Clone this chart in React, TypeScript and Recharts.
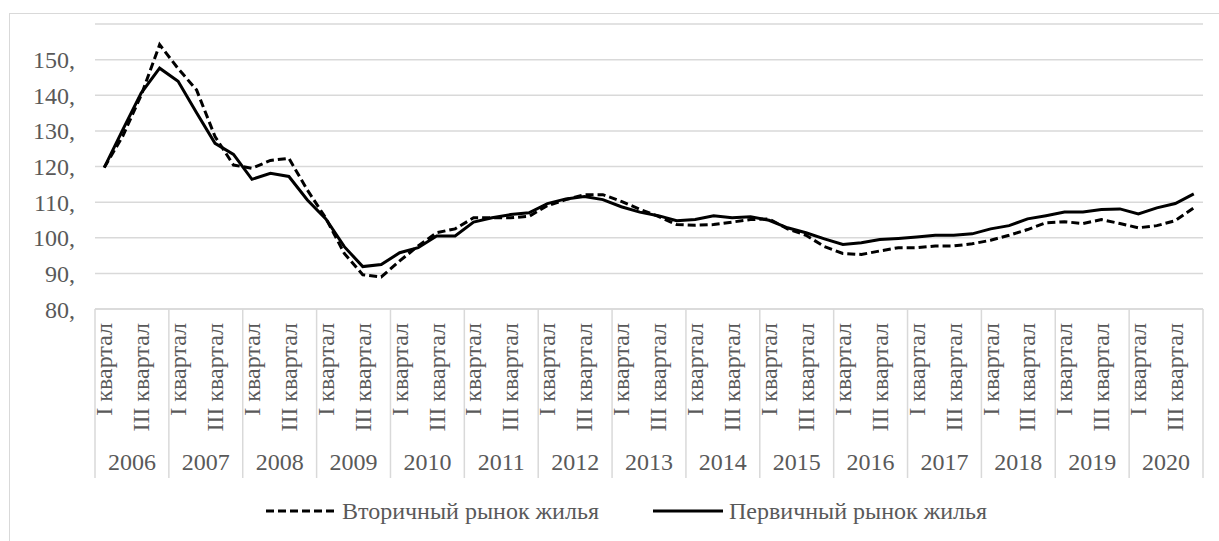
import { LineChart, Line, XAxis, YAxis, CartesianGrid } from 'recharts';

const YEARS = ['2006', '2007', '2008', '2009', '2010', '2011', '2012', '2013', '2014', '2015', '2016', '2017', '2018', '2019', '2020'];
const QUARTER_LABELS = ['I квартал', '', 'III квартал', ''];
const Y_TICKS = [80, 90, 100, 110, 120, 130, 140, 150];

// Вторичный рынок жилья, по кварталам 2006–2020
const SECONDARY = [
  119.7, 128.5, 140.0, 154.2,
  147.5, 141.5, 128.4, 120.4,
  119.5, 121.7, 122.3, 113.4,
  105.5, 95.6, 89.6, 89.0,
  93.5, 97.7, 101.4, 102.5,
  105.6, 105.6, 105.6, 106.0,
  109.0, 110.7, 112.1, 112.1,
  110.2, 108.0, 106.0, 103.7,
  103.5, 103.7, 104.4, 105.1,
  105.3, 102.5, 100.7, 97.5,
  95.6, 95.3, 96.3, 97.2,
  97.2, 97.7, 97.7, 98.3,
  99.3, 100.7, 102.3, 104.2,
  104.5, 104.0, 105.1, 104.0,
  102.8, 103.4, 104.8, 108.4,
];

// Первичный рынок жилья
const PRIMARY = [
  119.7, 130.3, 140.6, 147.6,
  143.9, 135.1, 126.5, 123.4,
  116.4, 118.1, 117.2, 110.6,
  105.3, 97.5, 91.9, 92.5,
  95.8, 97.2, 100.5, 100.5,
  104.4, 105.6, 106.5, 107.0,
  109.6, 110.9, 111.6, 110.7,
  108.7, 107.2, 106.2, 104.8,
  105.1, 106.2, 105.6, 105.9,
  104.9, 102.8, 101.4, 99.7,
  98.1, 98.6, 99.5, 99.8,
  100.2, 100.7, 100.7, 101.1,
  102.5, 103.4, 105.3, 106.2,
  107.2, 107.2, 107.9, 108.1,
  106.7, 108.4, 109.6, 112.3,
];

const data = SECONDARY.map((v, i) => ({
  id: `${YEARS[Math.floor(i / 4)]}-${(i % 4) + 1}`,
  year: YEARS[Math.floor(i / 4)],
  q: i % 4,
  secondary: v,
  primary: PRIMARY[i],
}));

const FONT = '"Liberation Serif", "Times New Roman", serif';
const TEXT = '#595959';
const GRID = '#d9d9d9';
const HALF_STEP = 9.23;

function CategoryTick(props: any) {
  const { x, y, index } = props;
  const row = data[index];
  if (!row) return null;
  const label = QUARTER_LABELS[row.q];
  return (
    <g>
      {label && (
        <text
          x={x}
          y={y + 14}
          dy="0.33em"
          transform={`rotate(-90, ${x}, ${y + 14})`}
          textAnchor="end"
          fill={TEXT}
          fontSize={24}
          fontFamily={FONT}
        >
          {label}
        </text>
      )}
      {row.q === 1 && (
        <text x={x + HALF_STEP} y={y + 161} textAnchor="middle" fill={TEXT} fontSize={24} fontFamily={FONT}>
          {row.year}
        </text>
      )}
      {row.q === 0 && <line x1={x - HALF_STEP} x2={x - HALF_STEP} y1={y} y2={y + 169} stroke={GRID} strokeWidth={1.5} />}
      {index === data.length - 1 && (
        <line x1={x + HALF_STEP} x2={x + HALF_STEP} y1={y} y2={y + 169} stroke={GRID} strokeWidth={1.5} />
      )}
    </g>
  );
}

export default function App() {
  return (
    <div style={{ position: 'relative', width: 1219, height: 541, overflow: 'hidden', background: '#fff', fontFamily: FONT }}>
      <style>{'body{margin:0}'}</style>
      <div
        style={{
          position: 'absolute',
          left: 9,
          top: 13,
          width: 1300,
          height: 600,
          border: `1px solid ${GRID}`,
        }}
      />
      <div style={{ position: 'absolute', left: 0, top: 0 }}>
        <LineChart width={1219} height={541} data={data} margin={{ top: 24, right: 16, left: 0, bottom: 0 }}>
          <CartesianGrid vertical={false} stroke={GRID} strokeWidth={1.5} />
          <XAxis
            dataKey="id"
            interval={0}
            height={232}
            padding={{ left: HALF_STEP, right: HALF_STEP }}
            tickLine={false}
            tickSize={0}
            tickMargin={0}
            axisLine={{ stroke: GRID, strokeWidth: 1.5 }}
            tick={<CategoryTick />}
          />
          <YAxis
            width={95}
            domain={[80, 160]}
            ticks={Y_TICKS}
            axisLine={false}
            tickLine={false}
            tickSize={0}
            tickMargin={20}
            tickFormatter={(v: number) => `${v},`}
            tick={{ fill: TEXT, fontSize: 24, fontFamily: FONT }}
          />
          <Line
            type="linear"
            dataKey="secondary"
            stroke="#000"
            strokeWidth={3}
            strokeDasharray="8 4"
            dot={false}
            isAnimationActive={false}
          />
          <Line type="linear" dataKey="primary" stroke="#000" strokeWidth={3} dot={false} isAnimationActive={false} />
        </LineChart>
      </div>
      <div
        style={{
          position: 'absolute',
          top: 496,
          left: 266,
          height: 30,
          display: 'flex',
          alignItems: 'center',
          fontSize: 24,
          color: TEXT,
          whiteSpace: 'nowrap',
        }}
      >
        <svg width={70} height={6} style={{ marginRight: 6 }}>
          <line x1={0} x2={70} y1={3} y2={3} stroke="#000" strokeWidth={3} strokeDasharray="8 4" />
        </svg>
        <span style={{ width: 311 }}>Вторичный рынок жилья</span>
        <svg width={70} height={6} style={{ marginRight: 6 }}>
          <line x1={0} x2={70} y1={3} y2={3} stroke="#000" strokeWidth={3} />
        </svg>
        <span>Первичный рынок жилья</span>
      </div>
    </div>
  );
}
